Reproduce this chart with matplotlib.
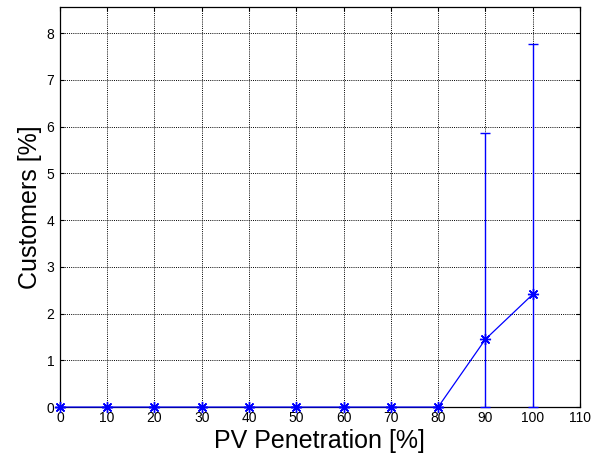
import numpy as np
import matplotlib
matplotlib.use("Agg")
from matplotlib import pyplot as plt

# data
penetration = [0, 10, 20, 30, 40, 50, 60, 70, 80, 90, 100]
customers = [0, 0, 0, 0, 0, 0, 0, 0, 0, 1.45, 2.41]
err_low = [0, 0, 0, 0, 0, 0, 0, 0, 0, 1.45, 2.41]
err_high = [0, 0, 0, 0, 0, 0, 0, 0, 0, 4.42, 5.36]

xticks = [0, 10, 20, 30, 40, 50, 60, 70, 80, 90, 100, 110]
yticks = [0, 1, 2, 3, 4, 5, 6, 7, 8]

plt.rcParams['font.family'] = ['Liberation Sans', 'DejaVu Sans']

fig = plt.figure(figsize=(5.93, 4.61), dpi=100)
ax = fig.add_axes([0.101, 0.117, 0.877, 0.867])

ax.errorbar(penetration, customers, yerr=[err_low, err_high], color='#0000ff',
            marker=(8, 2, 0), markersize=8, markeredgewidth=1.0,
            linewidth=0.9, elinewidth=1.0,
            capsize=3.6, capthick=1.0, clip_on=False, zorder=3)

ax.set_xlim(0, 110)
ax.set_ylim(0, 8.55)
ax.set_xticks(xticks)
ax.set_yticks(yticks)
ax.grid(True, color='black', linestyle=(0, (1, 1.2)), linewidth=0.7)
ax.tick_params(direction='in', top=True, right=True, labelsize=10, length=3)
ax.tick_params(axis='x', pad=3)
ax.tick_params(axis='y', pad=4)
for s in ax.spines.values():
    s.set_linewidth(0.9)

ax.set_xlabel('PV Penetration [%]', fontsize=18, labelpad=3)
ax.set_ylabel('Customers [%]', fontsize=18, labelpad=3)

fig.savefig('out.png', dpi=100)
